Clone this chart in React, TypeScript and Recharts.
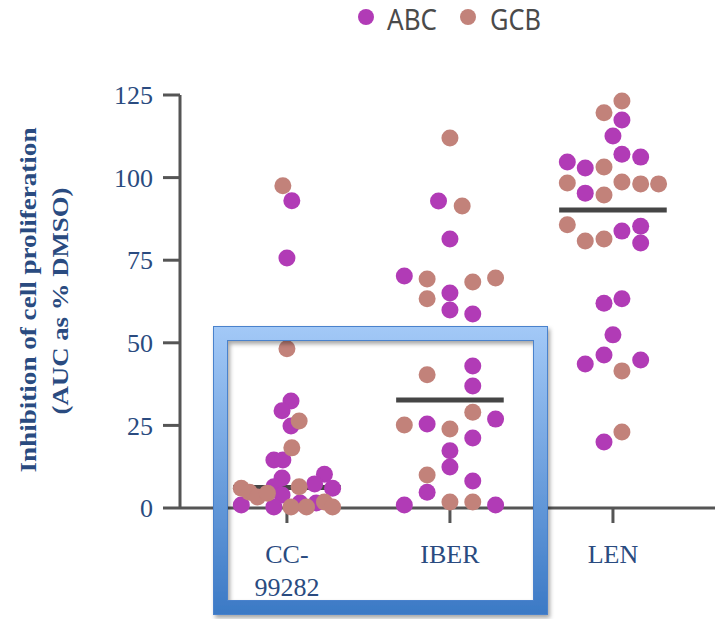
import { ScatterChart, Scatter, XAxis, YAxis, ReferenceLine } from 'recharts';

// category positions on the numeric x axis: 1, 2, 3
const CATEGORY_LABELS = [['CC-', '99282'], ['IBER'], ['LEN']];
const CATEGORY_TICKS = [1, 2, 3];
const Y_TICKS = [0, 25, 50, 75, 100, 125];

// [x, value] pairs (x jitter around the category centre)
const abcCC: [number, number][] = [
  [1.03, 93], [1.0, 75.7], [1.025, 32.4], [0.97, 29.4], [1.025, 24.8], [0.92, 14.5],
  [0.975, 14.5], [0.97, 9.1], [1.23, 10.2], [1.17, 7.3], [1.28, 6.0], [0.92, 6.4],
  [0.97, 3.9], [0.72, 0.9], [0.92, 0.3], [1.08, 1.5], [1.18, 1.5],
];
const gcbCC: [number, number][] = [
  [0.975, 97.5], [1.0, 48.2], [1.075, 26.3], [1.03, 18.2], [1.075, 6.4], [0.72, 6.0],
  [0.77, 4.8], [0.82, 3.3], [0.88, 4.5], [1.025, 0.3], [1.12, 0.3], [1.23, 1.8], [1.28, 0.3],
];
const abcIBER: [number, number][] = [
  [1.93, 92.9], [2.0, 81.4], [1.72, 70.2], [2.0, 65.1], [2.0, 59.9], [2.14, 58.7],
  [2.14, 43], [2.14, 36.9], [2.28, 26.9], [1.86, 25.4], [2.14, 21.2], [2.0, 17.3],
  [2.0, 12.4], [2.14, 8.2], [1.86, 4.8], [1.72, 0.9], [2.28, 0.9],
];
const gcbIBER: [number, number][] = [
  [2.0, 112], [2.075, 91.4], [1.86, 69.3], [2.14, 68.4], [2.28, 69.6], [1.86, 63.3],
  [1.86, 40.3], [2.14, 29], [1.72, 25.1], [2.0, 23.9], [1.86, 10], [2.0, 1.8], [2.14, 1.8],
];
const abcLEN: [number, number][] = [
  [3.055, 117.4], [3.0, 112.6], [2.72, 104.7], [2.83, 102.9], [3.055, 107.1], [3.17, 106.2],
  [2.83, 95.3], [3.055, 83.8], [3.17, 85.3], [3.17, 80.2], [2.945, 62], [3.055, 63.3],
  [3.0, 52.4], [2.945, 46.3], [2.83, 43.6], [3.17, 44.8], [2.945, 20],
];
const gcbLEN: [number, number][] = [
  [3.055, 123.2], [2.945, 119.6], [2.945, 103.2], [2.72, 98.4], [3.055, 98.7], [3.17, 98.1],
  [3.28, 98.1], [2.945, 94.7], [2.72, 85.7], [2.83, 80.8], [2.945, 81.4], [3.055, 41.5], [3.055, 23],
];
const MEDIANS = [6.2, 32.7, 90.2];

const ABC_COLOR = '#b13bb6';
const GCB_COLOR = '#c2827a';
const LABEL_BLUE = '#2a4b80';
const AXIS_GREY = '#555555';
const SERIF = '"Liberation Serif", "Times New Roman", serif';

const toPoints = (...groups: [number, number][][]) =>
  groups.flat().map(([x, y]) => ({ x, y }));

const abcData = toPoints(abcCC, abcIBER, abcLEN);
const gcbData = toPoints(gcbCC, gcbIBER, gcbLEN);

const dot = (color: string) => (props: any) =>
  <circle cx={props.cx} cy={props.cy} r={8.5} fill={color} />;

const CategoryTick = ({ x, y, payload }: any) => {
  const lines = CATEGORY_LABELS[payload.value - 1] ?? [];
  return (
    <text x={x} y={y} textAnchor="middle" fill={LABEL_BLUE} fontFamily={SERIF} fontSize={26}>
      {lines.map((l, i) => (
        <tspan key={i} x={x} dy={i === 0 ? 38 : 33}>{l}</tspan>
      ))}
    </text>
  );
};

export default function App() {
  return (
    <div style={{ position: 'absolute', left: 0, top: 0, width: 715, height: 619, background: '#fff' }}>
      <ScatterChart width={715} height={619} margin={{ top: 95, right: 0, bottom: 0, left: 0 }}>
        <XAxis
          type="number"
          dataKey="x"
          domain={[0.344, 3.626]}
          ticks={CATEGORY_TICKS}
          allowDataOverflow
          height={111}
          tickSize={15}
          tick={<CategoryTick />}
          axisLine={{ stroke: AXIS_GREY, strokeWidth: 3 }}
          tickLine={{ stroke: AXIS_GREY, strokeWidth: 3 }}
        />
        <YAxis
          type="number"
          dataKey="y"
          domain={[0, 125]}
          ticks={Y_TICKS}
          width={180}
          tickSize={17}
          tickMargin={10}
          axisLine={{ stroke: AXIS_GREY, strokeWidth: 3 }}
          tickLine={{ stroke: AXIS_GREY, strokeWidth: 3 }}
          tick={{ fill: LABEL_BLUE, fontFamily: SERIF, fontSize: 26 }}
        />
        {MEDIANS.map((m, i) => (
          <ReferenceLine
            key={i}
            segment={[{ x: CATEGORY_TICKS[i] - 0.33, y: m }, { x: CATEGORY_TICKS[i] + 0.33, y: m }]}
            stroke="#454545"
            strokeWidth={5}
            ifOverflow="visible"
          />
        ))}
        <Scatter name="ABC" data={abcData} fill={ABC_COLOR} shape={dot(ABC_COLOR)} isAnimationActive={false} />
        <Scatter name="GCB" data={gcbData} fill={GCB_COLOR} shape={dot(GCB_COLOR)} isAnimationActive={false} />
      </ScatterChart>

      <svg width={715} height={619} style={{ position: 'absolute', left: 0, top: 0, pointerEvents: 'none' }}>
        <defs>
          <linearGradient id="frameGrad" gradientUnits="userSpaceOnUse" x1="0" y1="326" x2="0" y2="615">
            <stop offset="0" stopColor="#a3c9f7" />
            <stop offset="1" stopColor="#3b79c5" />
          </linearGradient>
          <filter id="frameShadow" x="-10%" y="-10%" width="120%" height="120%">
            <feDropShadow dx="2" dy="3" stdDeviation="2" floodColor="#000" floodOpacity="0.35" />
          </filter>
        </defs>
        {/* y axis title */}
        <g fill={LABEL_BLUE} fontFamily={SERIF} fontWeight="bold" fontSize={23}>
          <text transform="translate(36,300) rotate(-90)" textAnchor="middle" textLength={345} lengthAdjust="spacingAndGlyphs">
            Inhibition of cell proliferation
          </text>
          <text transform="translate(68,301) rotate(-90)" textAnchor="middle" textLength={227} lengthAdjust="spacingAndGlyphs">
            (AUC as % DMSO)
          </text>
        </g>
        {/* legend */}
        <g fontFamily='"Noto Sans", "DejaVu Sans", sans-serif' fontSize={29} fill="#4a4a4a">
          <circle cx={366} cy={17} r={8} fill={ABC_COLOR} />
          <text x={387} y={30} textLength={50} lengthAdjust="spacingAndGlyphs">ABC</text>
          <circle cx={468} cy={17} r={8} fill={GCB_COLOR} />
          <text x={490} y={30} textLength={51} lengthAdjust="spacingAndGlyphs">GCB</text>
        </g>
        {/* highlight frame */}
        <g filter="url(#frameShadow)">
          <rect x={220.5} y={333.5} width={320} height={274} fill="none" stroke="url(#frameGrad)" strokeWidth={15} />
        </g>
        <rect x={213.5} y={326.5} width={334} height={288} fill="none" stroke="#4a82cc" strokeWidth={1} />
        <rect x={227.5} y={340.5} width={306} height={260} fill="none" stroke="#4a82cc" strokeWidth={1} />
      </svg>
    </div>
  );
}
